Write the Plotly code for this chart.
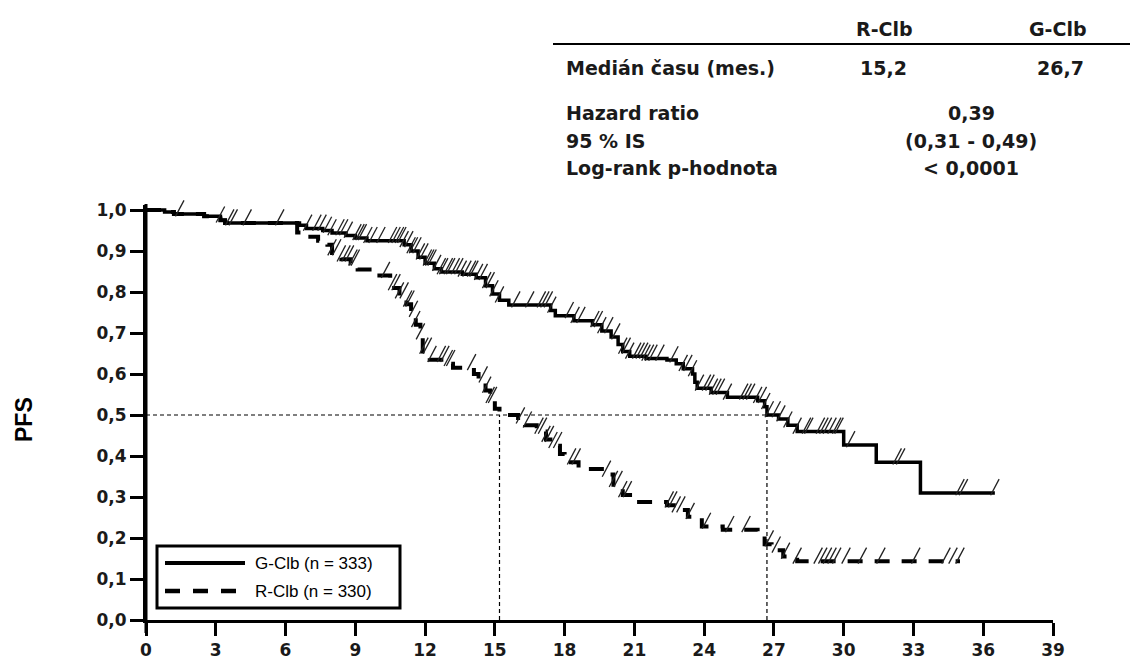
import numpy as np
import plotly.graph_objects as go

# ---------------- data ----------------
g_time = [0, 0.8, 1.2, 2.5, 3.2, 3.4, 6.6, 6.9, 7.6, 8.0, 8.6, 9.0, 9.5, 11.1, 11.4, 11.7, 12.0, 12.4,
          12.7, 13.6, 14.2, 14.6, 14.9, 15.2, 15.6, 17.4, 17.6, 18.4, 19.2, 19.6, 20.0, 20.3, 20.5, 20.8,
          21.5, 22.4, 22.8, 23.1, 23.5, 23.6, 23.7, 24.3, 25.0, 26.3, 26.6, 26.7, 27.2, 27.6, 28.0, 30.0,
          31.4, 33.3, 36.5]
g_surv = [1.0, 0.995, 0.99, 0.985, 0.975, 0.968, 0.963, 0.955, 0.95, 0.944, 0.938, 0.932, 0.925, 0.915,
          0.9, 0.885, 0.87, 0.857, 0.849, 0.843, 0.835, 0.815, 0.795, 0.78, 0.768, 0.755, 0.742, 0.73,
          0.72, 0.705, 0.69, 0.672, 0.655, 0.643, 0.638, 0.634, 0.625, 0.613, 0.6, 0.58, 0.565, 0.555,
          0.543, 0.535, 0.52, 0.5, 0.49, 0.475, 0.46, 0.427, 0.385, 0.31, 0.31]

r_time = [0, 0.8, 1.2, 2.5, 3.2, 3.4, 6.5, 6.8, 7.4, 7.8, 8.0, 8.4, 8.8, 9.1, 9.7, 10.5, 10.9, 11.2,
          11.4, 11.6, 11.8, 11.9, 12.2, 12.9, 13.2, 14.1, 14.3, 14.6, 14.8, 15.0, 15.2, 16.0, 16.3, 16.8,
          17.2, 17.5, 17.8, 18.0, 18.6, 19.8, 20.1, 20.5, 21.0, 22.4, 22.8, 23.3, 23.9, 24.8, 26.3, 26.6,
          26.9, 27.4, 28.0, 35.0]
r_surv = [1.0, 0.995, 0.99, 0.985, 0.975, 0.968, 0.945, 0.935, 0.925, 0.915, 0.895, 0.88, 0.87, 0.855,
          0.84, 0.81, 0.79, 0.77, 0.745, 0.72, 0.69, 0.655, 0.635, 0.625, 0.615, 0.6, 0.585, 0.56, 0.535,
          0.515, 0.5, 0.485, 0.475, 0.46, 0.44, 0.425, 0.405, 0.385, 0.368, 0.355, 0.33, 0.305, 0.288,
          0.28, 0.268, 0.252, 0.228, 0.22, 0.205, 0.185, 0.17, 0.155, 0.143, 0.143]

g_cens = [0.3, 1.45, 3.2, 3.6, 3.75, 4.35, 5.75, 6.95, 7.35, 7.57, 7.8, 8.0, 8.34, 8.5, 8.7, 9.07, 9.2,
          9.3, 9.54, 9.76, 10.1, 10.6, 10.75, 10.9, 11.0, 11.1, 11.3, 11.4, 11.5, 11.65, 11.8, 11.95,
          12.1, 12.2, 12.3, 12.5, 12.7, 12.8, 13.0, 13.1, 13.3, 13.45, 13.6, 13.8, 14.0, 14.1, 14.3,
          14.5, 14.65, 14.8, 14.96, 15.2, 15.9, 16.5, 17.0, 17.15, 17.3, 17.45, 18.2, 18.45, 18.7, 19.3,
          19.45, 19.6, 19.9, 20.2, 20.5, 20.65, 20.8, 21.1, 21.25, 21.4, 21.5, 21.65, 21.8, 22.1, 22.7,
          23.1, 23.3, 23.5, 23.8, 24.1, 24.25, 24.4, 24.55, 24.7, 25.0, 25.7, 25.85, 26.0, 26.3, 26.5,
          26.65, 26.8, 27.1, 27.3, 27.6, 28.0, 28.4, 28.5, 29.0, 29.15, 29.3, 29.5, 29.7, 29.8, 30.3,
          32.3, 32.45, 35.0, 35.15, 36.5]
r_cens = [8.0, 8.2, 8.4, 8.6, 8.75, 8.9, 9.0, 10.3, 10.6, 10.75, 10.9, 11.1, 11.25, 11.35, 11.5, 11.6,
          11.8, 11.95, 12.1, 12.3, 12.7, 12.85, 13.0, 13.1, 14.0, 14.5, 14.65, 14.8, 14.9, 16.1, 16.4,
          16.9, 17.05, 17.2, 17.35, 17.5, 17.7, 18.3, 18.5, 19.8, 20.1, 20.3, 20.5, 20.7, 22.5, 22.65,
          22.8, 23.0, 23.4, 24.1, 25.1, 25.8, 26.8, 27.1, 27.5, 28.0, 28.9, 29.1, 29.3, 29.5, 29.7,
          30.1, 30.8, 31.6, 33.1, 34.4, 34.7, 35.0]

medians = [15.2, 26.7]          # R-Clb, G-Clb
median_level = 0.5

x_ticks = list(range(0, 40, 3))
y_ticks = [round(v * 0.1, 1) for v in range(11)]
y_tick_text = [f"{v:.1f}".replace(".", ",") for v in y_ticks]

table_cols = ["R-Clb", "G-Clb"]
table_median = ["15,2", "26,7"]
table_rows = ["Hazard ratio", "95 % IS", "Log-rank p-hodnota"]
table_vals = ["0,39", "(0,31 - 0,49)", "< 0,0001"]
legend_labels = ["G-Clb (n = 333)", "R-Clb (n = 330)"]


def step_at(times, surv, t):
    idx = np.searchsorted(np.array(times), np.array(t), side="right") - 1
    return np.array(surv)[idx]


FONT = "DejaVu Sans, Arial, sans-serif"
BOLD = "DejaVu Sans Bold, DejaVu Sans, Arial, sans-serif"
DASH = "15px,12px"
Y_TOP = 1.0122
MARK_LIFT = 0.014   # censor ticks sit just above the curve (overlay axis offset)

fig = go.Figure()

# median reference lines
fig.add_trace(go.Scatter(x=[0, medians[1]], y=[median_level, median_level], mode="lines",
                         line=dict(color="black", width=1.2, dash="4px,3px"), hoverinfo="skip",
                         showlegend=False))
for m in medians:
    fig.add_trace(go.Scatter(x=[m, m], y=[0, median_level], mode="lines",
                             line=dict(color="black", width=1.2, dash="4px,3px"), hoverinfo="skip",
                             showlegend=False))

# KM curves
fig.add_trace(go.Scatter(x=r_time, y=r_surv, mode="lines", line=dict(color="black", width=4, dash=DASH,
                         shape="hv"), showlegend=False))
fig.add_trace(go.Scatter(x=g_time, y=g_surv, mode="lines", line=dict(color="black", width=3.5,
                         shape="hv"), showlegend=False))

# censor marks
for ct, tt, ss in [(g_cens, g_time, g_surv), (r_cens, r_time, r_surv)]:
    fig.add_trace(go.Scatter(x=ct, y=step_at(tt, ss, ct), mode="markers", cliponaxis=False,
                             yaxis="y2",
                             marker=dict(symbol="line-ns", size=13, angle=28,
                                         line=dict(color="#222", width=1.3)),
                             showlegend=False))

# page offset (browser body margin) -> figure is drawn 8px right/down
OFF = 8
W, H = 1138 - OFF, 662 - OFF
L, R, T, B = 146 - OFF, 85, 205 - OFF, 42
PW, PH = W - L - R, H - T - B


def px(xp):
    return (xp - OFF - L) / PW


def py(yp):
    return (H - B - (yp - OFF)) / PH


def note(x, y, text, font, anchor="center", **kw):
    return dict(x=px(x), y=py(y), xref="paper", yref="paper", text=text, showarrow=False,
                xanchor=anchor, yanchor="middle", font=font, **kw)


ann = []
tf = dict(family=FONT, size=19, color="#1a1a1a")
ann.append(note(884, 29, f"<b>{table_cols[0]}</b>", tf))
ann.append(note(1058, 29, f"<b>{table_cols[1]}</b>", tf))
ann.append(note(564, 68, "<b>Medián času (mes.)</b>", tf, "left"))
ann.append(note(883, 68, f"<b>{table_median[0]}</b>", tf))
ann.append(note(1060, 68, f"<b>{table_median[1]}</b>", tf))
for lab, val, yy in zip(table_rows, table_vals, [113, 141, 168]):
    ann.append(note(564, yy, f"<b>{lab}</b>", tf, "left"))
    ann.append(note(971, yy, f"<b>{val}</b>", tf))

ann.append(note(24, 420, "<b>PFS</b>", dict(family="Liberation Sans, Arial, sans-serif", size=23,
                                             color="black"), textangle=-90))

lf = dict(family="Liberation Sans, Arial, sans-serif", size=17, color="black")
ann.append(note(253, 563, legend_labels[0], lf, "left"))
ann.append(note(253, 591, legend_labels[1], lf, "left"))

shapes = [
    dict(type="line", xref="paper", yref="paper", x0=px(553), x1=px(1145), y0=py(44), y1=py(44),
         line=dict(color="black", width=2)),
    dict(type="rect", xref="paper", yref="paper", x0=px(157), x1=px(400), y0=py(608), y1=py(546),
         line=dict(color="black", width=3), fillcolor="white", layer="above"),
    dict(type="line", xref="paper", yref="paper", x0=px(165), x1=px(245), y0=py(563), y1=py(563),
         line=dict(color="black", width=4), layer="above"),
    dict(type="line", xref="paper", yref="paper", x0=px(165), x1=px(240), y0=py(591), y1=py(591),
         line=dict(color="black", width=4.5, dash="15px,13px"), layer="above"),
    dict(type="line", xref="paper", yref="paper", x0=0, x1=0, y0=py(633), y1=py(204),
         line=dict(color="black", width=3)),
]

tickfont = dict(family=BOLD, size=17, color="#1a1a1a")
fig.update_layout(
    width=W, height=H,
    margin=dict(l=L, r=R, t=T, b=B, autoexpand=False),
    paper_bgcolor="white", plot_bgcolor="white",
    annotations=ann, shapes=shapes,
    xaxis=dict(range=[0, 39], tickvals=x_ticks, ticktext=[f"<b>{v}</b>" for v in x_ticks],
               automargin=False,
               showgrid=False, zeroline=False, showline=True, linecolor="black", linewidth=3,
               ticks="outside", ticklen=13, tickwidth=3, tickcolor="black", tickfont=tickfont),
    yaxis=dict(range=[0, Y_TOP], tickvals=y_ticks, ticktext=[f"<b>{t}</b>" for t in y_tick_text],
               automargin=False,
               showgrid=False, zeroline=False, showline=True, linecolor="black", linewidth=3,
               ticks="outside", ticklen=13, tickwidth=3, tickcolor="black", tickfont=tickfont),
    yaxis2=dict(overlaying="y", range=[-MARK_LIFT, Y_TOP - MARK_LIFT], visible=False,
                automargin=False),
)

fig.write_html("out.html")
